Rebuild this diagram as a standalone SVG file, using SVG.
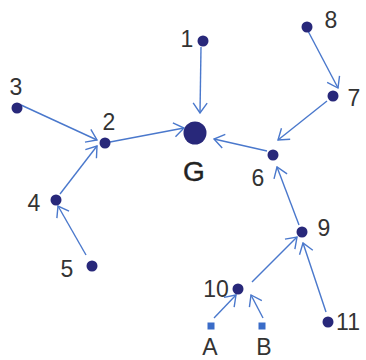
<svg xmlns="http://www.w3.org/2000/svg" width="366" height="360" viewBox="0 0 366 360">
  <style>
    .edge { stroke: #4a78cc; stroke-width: 1.4; fill: none; }
    .dot { fill: #28287a; }
    .src { fill: #3a6cc8; }
    .lbl { font-family: "Liberation Sans", Arial, sans-serif; font-size: 23px; fill: #333; text-anchor: middle; }
    .goal { font-family: "Liberation Sans", Arial, sans-serif; font-size: 28px; fill: #222; text-anchor: middle; stroke: #222; stroke-width: 0.4; }
  </style>
  <defs>
    <marker id="arr" viewBox="-1 -8 12 16" refX="10" refY="0" markerWidth="12" markerHeight="16" markerUnits="userSpaceOnUse" orient="auto">
      <path d="M0,-7 L10,0 L0,7" fill="none" stroke="#4a78cc" stroke-width="1.4"/>
    </marker>
  </defs>
  <rect width="366" height="360" fill="#ffffff"/>

  <g id="connectors">
    <line class="edge" x1="201" y1="47" x2="200" y2="113" marker-end="url(#arr)"/>
    <line class="edge" x1="21" y1="105" x2="97" y2="140" marker-end="url(#arr)"/>
    <line class="edge" x1="60" y1="194" x2="97" y2="146" marker-end="url(#arr)"/>
    <line class="edge" x1="110" y1="142" x2="184" y2="128" marker-end="url(#arr)"/>
    <line class="edge" x1="86" y1="255" x2="58" y2="206" marker-end="url(#arr)"/>
    <line class="edge" x1="308" y1="31" x2="338" y2="88" marker-end="url(#arr)"/>
    <line class="edge" x1="327" y1="101" x2="278" y2="140" marker-end="url(#arr)"/>
    <line class="edge" x1="267" y1="151" x2="214" y2="139" marker-end="url(#arr)"/>
    <line class="edge" x1="299" y1="225" x2="277" y2="167" marker-end="url(#arr)"/>
    <line class="edge" x1="252" y1="282" x2="297" y2="237" marker-end="url(#arr)"/>
    <line class="edge" x1="326" y1="312" x2="303" y2="243" marker-end="url(#arr)"/>
    <line class="edge" x1="214" y1="318" x2="236" y2="295" marker-end="url(#arr)"/>
    <line class="edge" x1="263" y1="318" x2="251" y2="295" marker-end="url(#arr)"/>
  </g>

  <g id="node-G"><circle class="dot" cx="195" cy="133" r="11.5"/><text class="goal" x="194" y="181">G</text></g>
  <g id="node-1"><circle class="dot" cx="203" cy="41" r="5.5"/><text class="lbl" x="187" y="47">1</text></g>
  <g id="node-2"><circle class="dot" cx="105" cy="143" r="5.5"/><text class="lbl" x="109" y="130">2</text></g>
  <g id="node-3"><circle class="dot" cx="17" cy="108" r="5.5"/><text class="lbl" x="16" y="95">3</text></g>
  <g id="node-4"><circle class="dot" cx="56" cy="200" r="5.5"/><text class="lbl" x="34" y="211">4</text></g>
  <g id="node-5"><circle class="dot" cx="92" cy="266" r="5.5"/><text class="lbl" x="67" y="277">5</text></g>
  <g id="node-6"><circle class="dot" cx="273" cy="155" r="5.5"/><text class="lbl" x="258" y="186">6</text></g>
  <g id="node-7"><circle class="dot" cx="333" cy="96" r="5.5"/><text class="lbl" x="354" y="106">7</text></g>
  <g id="node-8"><circle class="dot" cx="307" cy="27" r="5.5"/><text class="lbl" x="331" y="28">8</text></g>
  <g id="node-9"><circle class="dot" cx="302" cy="232" r="5.5"/><text class="lbl" x="324" y="236">9</text></g>
  <g id="node-10"><circle class="dot" cx="238" cy="289" r="5.5"/><text class="lbl" x="216" y="297">10</text></g>
  <g id="node-11"><circle class="dot" cx="328" cy="322" r="5.5"/><text class="lbl" x="348" y="330">11</text></g>
  <g id="node-A"><rect class="src" x="207.5" y="322.5" width="7" height="7"/><text class="lbl" x="210" y="355">A</text></g>
  <g id="node-B"><rect class="src" x="258.5" y="322.5" width="7" height="7"/><text class="lbl" x="264" y="355">B</text></g>
</svg>
